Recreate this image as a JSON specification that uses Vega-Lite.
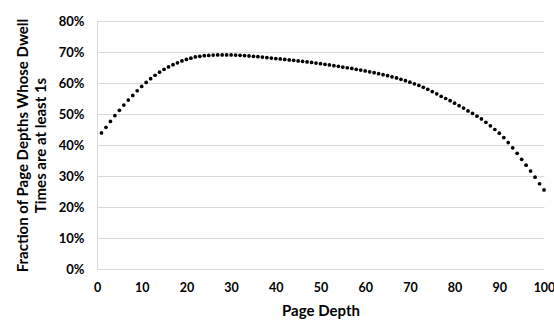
{
  "$schema": "https://vega.github.io/schema/vega-lite/v6.json",
  "autosize": "none",
  "width": 447,
  "height": 248,
  "padding": {"left": 97, "top": 21, "right": 10, "bottom": 57},
  "background": "white",
  "config": {"view": {"stroke": null}, "font": "Lato"},
  "data": {"values": [
    {"d":1,"f":0.439},{"d":2,"f":0.457},{"d":3,"f":0.476},{"d":4,"f":0.495},{"d":5,"f":0.512},
    {"d":6,"f":0.529},{"d":7,"f":0.545},{"d":8,"f":0.560},{"d":9,"f":0.575},{"d":10,"f":0.589},
    {"d":11,"f":0.602},{"d":12,"f":0.614},{"d":13,"f":0.625},{"d":14,"f":0.635},{"d":15,"f":0.644},
    {"d":16,"f":0.652},{"d":17,"f":0.659},{"d":18,"f":0.665},{"d":19,"f":0.671},{"d":20,"f":0.676},
    {"d":21,"f":0.680},{"d":22,"f":0.684},{"d":23,"f":0.686},{"d":24,"f":0.688},{"d":25,"f":0.689},
    {"d":26,"f":0.690},{"d":27,"f":0.6905},{"d":28,"f":0.6907},{"d":29,"f":0.6907},{"d":30,"f":0.6905},
    {"d":31,"f":0.690},{"d":32,"f":0.6893},{"d":33,"f":0.6885},{"d":34,"f":0.6875},{"d":35,"f":0.6862},
    {"d":36,"f":0.6848},{"d":37,"f":0.6835},{"d":38,"f":0.682},{"d":39,"f":0.6805},{"d":40,"f":0.679},
    {"d":41,"f":0.6775},{"d":42,"f":0.676},{"d":43,"f":0.6745},{"d":44,"f":0.673},{"d":45,"f":0.6713},
    {"d":46,"f":0.6697},{"d":47,"f":0.668},{"d":48,"f":0.6662},{"d":49,"f":0.6643},{"d":50,"f":0.6623},
    {"d":51,"f":0.6603},{"d":52,"f":0.6582},{"d":53,"f":0.656},{"d":54,"f":0.6538},{"d":55,"f":0.6515},
    {"d":56,"f":0.6492},{"d":57,"f":0.6468},{"d":58,"f":0.6443},{"d":59,"f":0.6417},{"d":60,"f":0.639},
    {"d":61,"f":0.6362},{"d":62,"f":0.6333},{"d":63,"f":0.6302},{"d":64,"f":0.627},{"d":65,"f":0.6236},
    {"d":66,"f":0.62},{"d":67,"f":0.6162},{"d":68,"f":0.612},{"d":69,"f":0.6075},{"d":70,"f":0.6027},
    {"d":71,"f":0.5975},{"d":72,"f":0.592},{"d":73,"f":0.586},{"d":74,"f":0.5795},{"d":75,"f":0.5725},
    {"d":76,"f":0.565},{"d":77,"f":0.557},{"d":78,"f":0.55},{"d":79,"f":0.543},{"d":80,"f":0.535},
    {"d":81,"f":0.527},{"d":82,"f":0.519},{"d":83,"f":0.510},{"d":84,"f":0.502},{"d":85,"f":0.493},
    {"d":86,"f":0.484},{"d":87,"f":0.473},{"d":88,"f":0.462},{"d":89,"f":0.450},{"d":90,"f":0.438},
    {"d":91,"f":0.424},{"d":92,"f":0.408},{"d":93,"f":0.391},{"d":94,"f":0.373},{"d":95,"f":0.354},
    {"d":96,"f":0.335},{"d":97,"f":0.316},{"d":98,"f":0.296},{"d":99,"f":0.275},{"d":100,"f":0.255}
  ]},
  "mark": {"type": "point", "filled": true, "color": "black", "size": 14, "opacity": 1},
  "encoding": {
    "x": {
      "field": "d", "type": "quantitative",
      "scale": {"domain": [0, 100], "nice": false, "zero": false},
      "axis": {
        "title": "Page Depth", "values": [0,10,20,30,40,50,60,70,80,90,100],
        "grid": false, "ticks": false, "domain": false,
        "labelFont": "Lato", "labelFontWeight": "bold", "labelFontSize": 12.5, "labelColor": "#000",
        "labelPadding": 12, "labelFlush": false,
        "titleFont": "Lato", "titleFontWeight": "bold", "titleFontSize": 15, "titleColor": "#000",
        "titlePadding": 10
      }
    },
    "y": {
      "field": "f", "type": "quantitative",
      "scale": {"domain": [0, 0.8], "nice": false},
      "axis": {
        "title": ["Fraction of Page Depths Whose Dwell", "Times are at least 1s"],
        "values": [0,0.1,0.2,0.3,0.4,0.5,0.6,0.7,0.8],
        "format": ".0%",
        "grid": true, "gridColor": "#d9d9d9", "gridWidth": 1,
        "ticks": false, "domain": true, "domainColor": "#d9d9d9", "domainWidth": 1,
        "labelFont": "Lato", "labelFontWeight": "bold", "labelFontSize": 13, "labelColor": "#000",
        "labelPadding": 13,
        "titleFont": "Lato", "titleFontWeight": "bold", "titleFontSize": 15, "titleColor": "#000",
        "titlePadding": 10, "titleLineHeight": 18
      }
    }
  }
}
